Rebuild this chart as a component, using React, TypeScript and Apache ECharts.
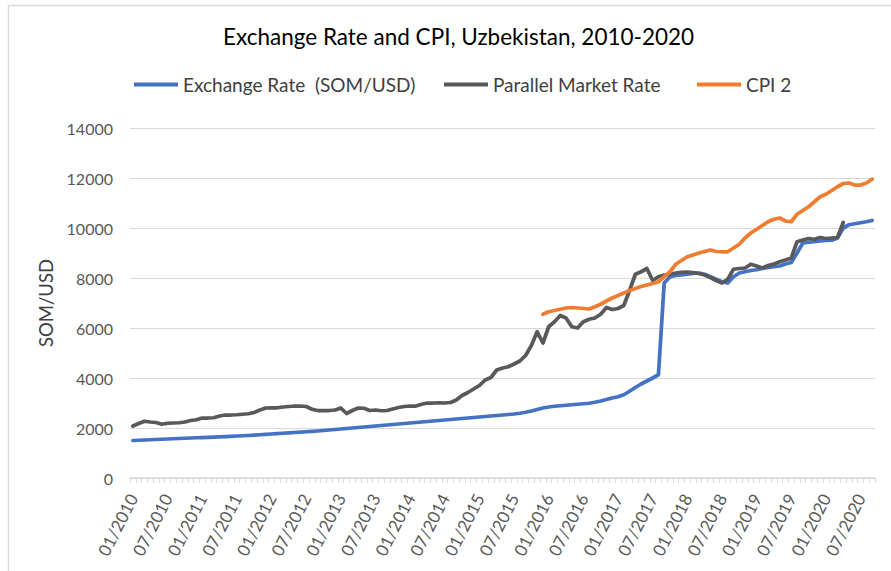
import React, { useEffect, useRef } from "react";
import * as echarts from "echarts";

const months: string[] = [];
for (let y = 2010; y <= 2020; y++) {
  for (let m = 1; m <= 12; m++) {
    if (y === 2020 && m > 9) break;
    months.push((m < 10 ? "0" + m : "" + m) + "/" + y);
  }
}

const exchangeRate = [
  1500, 1510, 1520, 1530, 1540, 1550, 1560, 1570, 1580, 1590, 1600, 1610,
  1615, 1625, 1635, 1645, 1655, 1665, 1680, 1690, 1700, 1715, 1730, 1745,
  1760, 1775, 1790, 1805, 1820, 1835, 1850, 1865, 1880, 1900, 1920, 1940,
  1960, 1980, 2000, 2020, 2040, 2060, 2080, 2100, 2120, 2140, 2160, 2180,
  2200, 2220, 2240, 2260, 2280, 2300, 2320, 2340, 2360, 2380, 2400, 2420,
  2440, 2460, 2480, 2500, 2520, 2540, 2560, 2590, 2630, 2680, 2740, 2800,
  2840, 2870, 2890, 2910, 2930, 2950, 2970, 2990, 3030, 3080, 3140, 3200,
  3250, 3330, 3470, 3620, 3760, 3880, 4000, 4130, 7800, 8050, 8100, 8120,
  8150, 8180, 8200, 8150, 8050, 7950, 7850, 7800, 8050, 8200, 8250, 8300,
  8330, 8380, 8420, 8450, 8480, 8560, 8620, 9000, 9400, 9430, 9450, 9480,
  9500, 9510, 9600, 10000, 10130, 10170, 10210, 10250, 10300,
];

const parallelRate = [
  2080, 2180, 2270, 2240, 2220, 2150, 2190, 2200, 2210, 2240, 2300, 2330,
  2400, 2400, 2410, 2480, 2520, 2520, 2530, 2550, 2570, 2620, 2720, 2800,
  2810, 2810, 2840, 2860, 2880, 2880, 2860, 2750, 2700, 2700, 2700, 2720,
  2800, 2580, 2700, 2800, 2790, 2700, 2720, 2690, 2700, 2760, 2820, 2860,
  2880, 2880, 2950, 3000, 3000, 3010, 3000, 3020, 3120, 3300, 3420, 3560,
  3700, 3920, 4020, 4320, 4400, 4450, 4560, 4680, 4900, 5300, 5850, 5400,
  6050, 6250, 6500, 6400, 6050, 6000, 6250, 6350, 6400, 6550, 6820, 6740,
  6780, 6900, 7500, 8150, 8250, 8380, 7900, 8050, 8120, 8150, 8200, 8230,
  8240, 8220, 8180, 8120, 8020, 7900, 7800, 7950, 8350, 8380, 8400, 8550,
  8480, 8400, 8500, 8560, 8650, 8720, 8800, 9450, 9520, 9580, 9550, 9620,
  9580, 9600, 9620, 10220,
];

// CPI 2 starts in 12/2015 (category index 71)
const cpiStartIndex = 71;
const cpi2Values = [
  6550, 6650, 6700, 6750, 6800, 6820, 6800, 6780, 6760,
  6850, 6950, 7080, 7200, 7300, 7400, 7500, 7580, 7660, 7720, 7780, 7850,
  8050, 8250, 8550, 8700, 8850, 8920, 9000, 9060, 9120, 9060, 9050, 9050,
  9200, 9350, 9600, 9800, 9950, 10100, 10250, 10350, 10400, 10280, 10250,
  10550, 10700, 10850, 11050, 11250, 11350, 11500, 11650, 11780, 11800, 11720,
  11720, 11800, 11950,
];
const cpi2: (number | null)[] = [
  ...new Array(cpiStartIndex).fill(null),
  ...cpi2Values,
];

const seriesNames = ["Exchange Rate  (SOM/USD)", "Parallel Market Rate", "CPI 2"];
const seriesColors = ["#4472C4", "#595959", "#ED7D31"];

const FONT = "Lato";

export default function App() {
  const ref = useRef<HTMLDivElement>(null);
  useEffect(() => {
    if (!ref.current) return;
    const chart = echarts.init(ref.current, null, { renderer: "svg" });
    const legendLefts = [129, 439, 692];
    chart.setOption({
      animation: false,
      backgroundColor: "#ffffff",
      title: {
        text: "Exchange Rate and CPI, Uzbekistan, 2010-2020",
        left: 218,
        top: 20,
        textStyle: { fontFamily: FONT, fontSize: 22.5, fontWeight: "normal", color: "#000000" },
      },
      legend: seriesNames.map((n, i) => ({
        data: [n],
        left: legendLefts[i],
        top: 70,
        icon: "rect",
        itemWidth: 44,
        itemHeight: 4,
        textStyle: { fontFamily: FONT, fontSize: 19, color: "#404040" },
      })),
      graphic: [
        {
          type: "rect",
          shape: { x: 8.5, y: 5.5, width: 1000, height: 1000 },
          style: { fill: "none", stroke: "#d9d9d9", lineWidth: 1.5 },
          silent: true,
          z: -10,
        },
      ],
      grid: { left: 130, right: 16, top: 128, bottom: 93 },
      xAxis: {
        type: "category",
        data: months,
        boundaryGap: true,
        axisLine: { lineStyle: { color: "#d9d9d9", width: 1.5 } },
        axisTick: { show: true, interval: 0, length: 5, lineStyle: { color: "#d9d9d9" } },
        axisLabel: {
          interval: 5,
          rotate: 63,
          margin: 17,
          fontFamily: FONT,
          fontSize: 17,
          color: "#595959",
        },
        splitLine: { show: false },
      },
      yAxis: {
        type: "value",
        min: 0,
        max: 14000,
        interval: 2000,
        axisLine: { show: false },
        axisTick: { show: false },
        splitLine: { lineStyle: { color: "#d9d9d9", width: 1 } },
        axisLabel: {
          fontFamily: FONT,
          fontSize: 16,
          color: "#595959",
          margin: 17,
          formatter: (v: number) => String(v),
        },
        name: "SOM/USD",
        nameLocation: "middle",
        nameGap: 68,
        nameRotate: 90,
        nameTextStyle: { fontFamily: FONT, fontSize: 18.5, color: "#404040" },
      },
      series: [
        { name: seriesNames[0], data: exchangeRate },
        { name: seriesNames[1], data: parallelRate },
        { name: seriesNames[2], data: cpi2 },
      ].map((s, i) => ({
        ...s,
        type: "line",
        symbol: "none",
        color: seriesColors[i],
        lineStyle: { width: 3.75, color: seriesColors[i], join: "round", cap: "round" },
        connectNulls: false,
      })),
    });
    return () => chart.dispose();
  }, []);
  return (
    <div
      ref={ref}
      style={{ position: "absolute", left: 0, top: 0, width: 891, height: 571 }}
    />
  );
}
